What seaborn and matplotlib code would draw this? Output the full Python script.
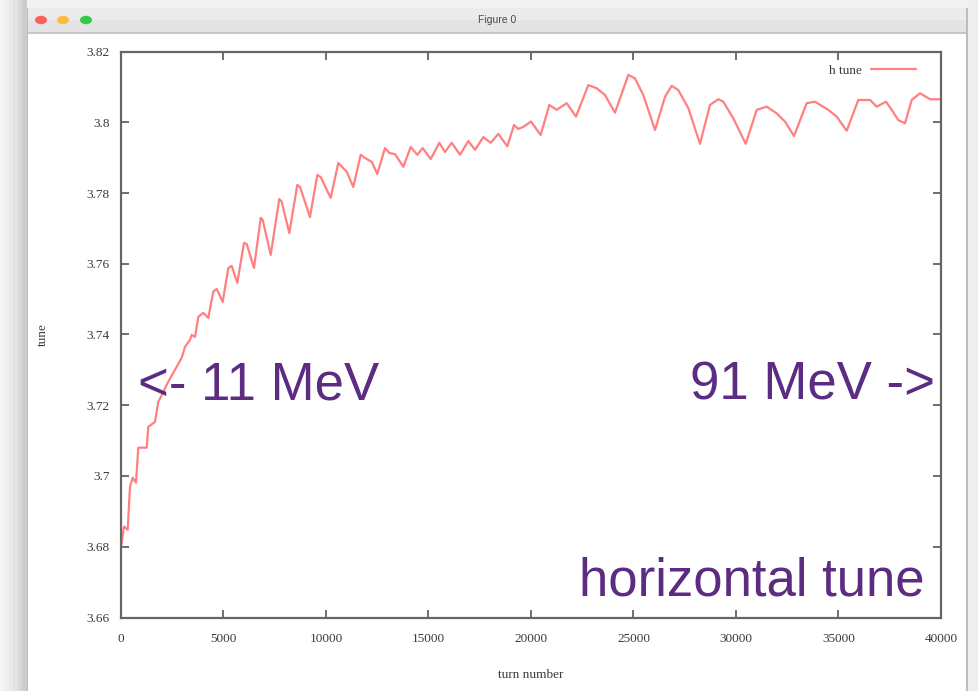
import numpy as np
import pandas as pd
import matplotlib
matplotlib.use("Agg")
import matplotlib.pyplot as plt
import seaborn as sns
from matplotlib.patches import Rectangle, Circle

# ---- data ----
turns = [0, 146, 327, 439, 571, 732, 844, 1254, 1332, 1659, 1820, 2049, 2229, 2551, 2717,
         2961, 3122, 3366, 3449, 3610, 3771, 4015, 4259, 4502, 4668, 4961, 5234, 5400,
         5673, 6000, 6132, 6488, 6815, 6912, 7302, 7722, 7839, 8210, 8600, 8732, 9219,
         9576, 9741, 10229, 10600, 11010, 11332, 11693, 11902, 12229, 12502, 12878, 13088,
         13366, 13771, 14132, 14454, 14717, 15108, 15527, 15805, 16132, 16537, 16942,
         17268, 17673, 18034, 18405, 18844, 19171, 19381, 19625, 20000, 20473, 20893,
         21254, 21741, 22195, 22795, 23205, 23610, 24098, 24747, 25073, 25478, 26049,
         26537, 26863, 27185, 27673, 28244, 28732, 29137, 29381, 29868, 30473, 31010,
         31498, 31985, 32390, 32829, 33449, 33854, 34502, 34912, 35400, 35966, 36537,
         36863, 37317, 37595, 37917, 38244, 38571, 38976, 39463, 39951]
h_tune = [3.6797, 3.6857, 3.6848, 3.6970, 3.6995, 3.6981, 3.7080, 3.7080, 3.7139, 3.7153,
          3.7210, 3.7235, 3.7258, 3.7292, 3.7309, 3.7334, 3.7365, 3.7385, 3.7399, 3.7393,
          3.7450, 3.7461, 3.7447, 3.7521, 3.7529, 3.7492, 3.7588, 3.7594, 3.7546, 3.7659,
          3.7656, 3.7588, 3.7730, 3.7724, 3.7625, 3.7783, 3.7775, 3.7687, 3.7823, 3.7817,
          3.7732, 3.7851, 3.7845, 3.7786, 3.7885, 3.7860, 3.7817, 3.7908, 3.7899, 3.7888,
          3.7854, 3.7927, 3.7913, 3.7910, 3.7874, 3.7930, 3.7908, 3.7927, 3.7896, 3.7942,
          3.7916, 3.7942, 3.7908, 3.7947, 3.7922, 3.7958, 3.7942, 3.7967, 3.7932, 3.7992,
          3.7981, 3.7987, 3.8002, 3.7964, 3.8049, 3.8035, 3.8054, 3.8016, 3.8105, 3.8096,
          3.8077, 3.8027, 3.8134, 3.8124, 3.8077, 3.7978, 3.8072, 3.8103, 3.8091, 3.8040,
          3.7939, 3.8049, 3.8065, 3.8058, 3.8011, 3.7939, 3.8035, 3.8044, 3.8025, 3.8002,
          3.7961, 3.8054, 3.8058, 3.8035, 3.8016, 3.7976, 3.8063, 3.8063, 3.8044, 3.8058,
          3.8035, 3.8006, 3.7997, 3.8063, 3.8082, 3.8065, 3.8065]

x_ticks = [0, 5000, 10000, 15000, 20000, 25000, 30000, 35000, 40000]
y_ticks = [3.66, 3.68, 3.70, 3.72, 3.74, 3.76, 3.78, 3.80, 3.82]
y_tick_labels = ["3.66", "3.68", "3.7", "3.72", "3.74", "3.76", "3.78", "3.8", "3.82"]

df = pd.DataFrame({"turn number": turns, "tune": h_tune})

sns.set_theme(style="white")
plt.rcParams["font.family"] = ["Liberation Serif", "DejaVu Serif"]

W, H = 979, 691
fig = plt.figure(figsize=(W / 100, H / 100), dpi=100)
fig.patch.set_facecolor("white")

def px_rect(x0, y0, x1, y1, color, z=0):
    r = Rectangle((x0 / W, 1 - y1 / H), (x1 - x0) / W, (y1 - y0) / H,
                  transform=fig.transFigure, facecolor=color, edgecolor="none", zorder=z)
    fig.add_artist(r)

# window screenshot frame
px_rect(0, 0, W, 8, "#f2f2f2")
for i, c in enumerate(["#f4f4f4", "#efefef", "#e9e9e9", "#e2e2e2", "#d8d8d8", "#cccccc"]):
    px_rect(i * 4.5, 0, (i + 1) * 4.5 + 0.5, H, c)
px_rect(27, 8, 968, 33, "#e4e4e4")
px_rect(27, 8, 968, 20, "#ebebeb")
px_rect(27, 32, 968, 33.5, "#c8c8c8")
px_rect(27, 8, 28.5, H, "#bdbdbd")
px_rect(966, 8, 968, H, "#bdbdbd")
px_rect(968, 0, W, H, "#eeeeee")
for cx, col in [(41, "#fc605b"), (63, "#fdbc40"), (86, "#34c84a")]:
    fig.add_artist(Circle((cx / W, 1 - 20 / H), 6 / W, transform=fig.transFigure,
                          facecolor=col, edgecolor="none"))
fig.text(497 / W, 1 - 20 / H, "Figure 0", ha="center", va="center", fontsize=7.5,
         color="#4a4a4a", family=["Liberation Sans", "DejaVu Sans"])

ax = fig.add_axes([121 / W, 1 - 617.5 / H, 820 / W, 566 / H])
sns.lineplot(data=df, x="turn number", y="tune", ax=ax, color="#ff7272",
             linewidth=1.6, label="h tune", alpha=0.9, solid_joinstyle="round")

ax.set_xlim(0, 40000)
ax.set_ylim(3.66, 3.82)
ax.set_xticks(x_ticks)
ax.set_xticklabels([str(t) for t in x_ticks])
ax.set_yticks(y_ticks)
ax.set_yticklabels(y_tick_labels)
ax.tick_params(axis="both", direction="in", length=6, width=1.2, color="#555555",
               labelsize=9.5, labelcolor="#3a3a3a", top=True, right=True, bottom=True, left=True)
ax.tick_params(axis="x", pad=11)
ax.tick_params(axis="y", pad=8)
for s in ax.spines.values():
    s.set_color("#666666")
    s.set_linewidth(1.6)
    s.set_visible(True)
ax.set_xlabel("turn number", fontsize=9.5, color="#3a3a3a")
ax.set_ylabel("tune", fontsize=9.5, color="#3a3a3a")
ax.xaxis.set_label_coords(0.5, -0.091)
ax.yaxis.set_label_coords(-0.088, 0.5)

leg = ax.legend(loc="upper right", frameon=False, markerfirst=False, fontsize=9.5,
                handlelength=3.4, borderaxespad=0.6, handletextpad=0.7,
                bbox_to_anchor=(0.985, 1.0))
for t in leg.get_texts():
    t.set_color("#3a3a3a")

purple = "#5b2c82"
sans = ["Liberation Sans", "DejaVu Sans"]
fig.text(138 / W, 1 - 399 / H, "<- 11 MeV", fontsize=38, color=purple, ha="left",
         va="baseline", family=sans)
fig.text(935 / W, 1 - 399 / H, "91 MeV ->", fontsize=38, color=purple, ha="right",
         va="baseline", family=sans)
fig.text(925 / W, 1 - 596 / H, "horizontal tune", fontsize=38, color=purple, ha="right",
         va="baseline", family=sans)

fig.savefig("out.png", dpi=100, facecolor=fig.get_facecolor())
